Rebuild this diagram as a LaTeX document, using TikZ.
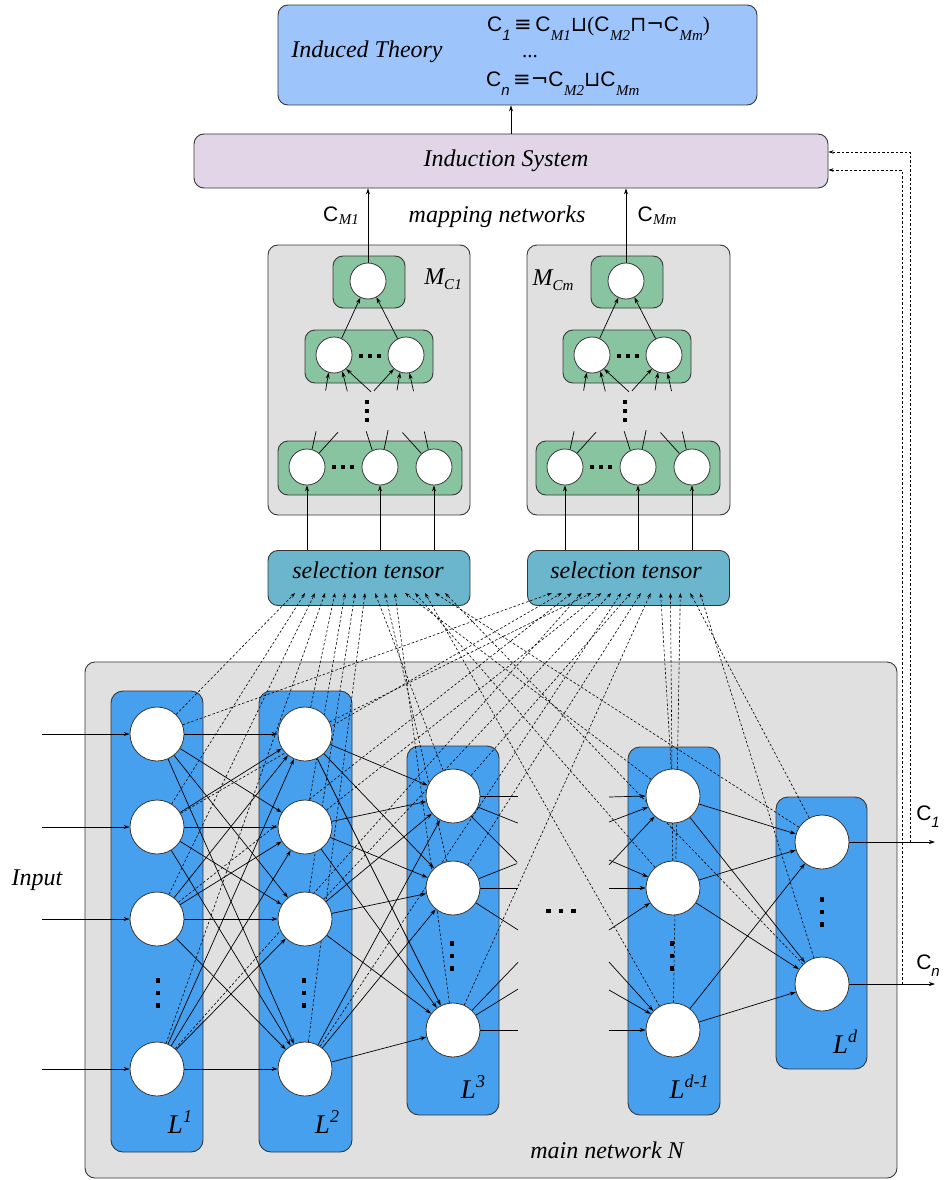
\documentclass[tikz,border=0pt]{standalone}
\usepackage{fontspec}
\setmainfont{Liberation Serif}
\newfontfamily\arialf{Liberation Sans}
\newfontfamily\symf{DejaVu Sans}
\usetikzlibrary{arrows.meta,calc}
\pgfdeclarelayer{back}
\pgfdeclarelayer{wires}
\pgfsetlayers{back,wires,main}

\definecolor{theoryfill}{RGB}{158,196,252}
\definecolor{inducefill}{RGB}{225,213,231}
\definecolor{panelfill}{RGB}{224,224,224}
\definecolor{groupfill}{RGB}{137,196,161}
\definecolor{tensorfill}{RGB}{107,182,204}
\definecolor{layerfill}{RGB}{70,160,238}
\definecolor{edge}{RGB}{55,55,55}

% concept names: sans C with a serif-italic or sans-italic index (optional drop)
\newcommand{\Cserif}[2][4pt]{{\arialf C}\kern0.5pt\raisebox{-#1}{\fontsize{15}{15}\selectfont\itshape #2}}
\newcommand{\Csans}[2][7pt]{{\arialf C}\raisebox{-#1}{\fontsize{15}{15}\selectfont\arialf\itshape #2}}
\newcommand{\Lsup}[1]{{\fontsize{27}{30}\selectfont L}\raisebox{11pt}{\fontsize{18}{18}\selectfont #1}}
\newcommand{\Msub}[1]{M\raisebox{-5pt}{\fontsize{15}{15}\selectfont #1}}

\begin{document}
\begin{tikzpicture}[x=1pt,y=-1pt,
  box/.style={rectangle, draw=edge, line width=0.9pt, rounded corners=10pt, inner sep=0pt},
  neuron/.style={circle, draw=edge, fill=white, line width=0.8pt, inner sep=0pt, minimum size=54pt},
  unit/.style={neuron, minimum size=36pt},
  wire/.style={-{Stealth[length=6pt,width=4pt]}, line width=0.7pt},
  stub/.style={line width=0.7pt},
  sel/.style={-{Stealth[length=5pt,width=3.5pt]}, line width=0.6pt, dash pattern=on 2.5pt off 2pt},
  lbl/.style={inner sep=0pt, font=\fontsize{24}{28}\selectfont\itshape},
  sym/.style={inner sep=0pt, font=\fontsize{21}{24}\selectfont},
  vdots/.pic={\foreach \j in {-1,0,1} \fill (-2.25,\j*12.5-2.25) rectangle ++(4.5,4.5);},
  hdots/.pic={\foreach \j in {-1,0,1} \fill (\j*12.5-2.25,-2.25) rectangle ++(4.5,4.5);}
]
\useasboundingbox (0,0) rectangle (946,1180);

% ---------- panels and groups ----------
\begin{pgfonlayer}{back}
  \node[box, fill=theoryfill, minimum width=479pt, minimum height=100pt] (theory) at (517.5,55) {};
  \node[box, fill=inducefill, minimum width=634pt, minimum height=54pt] (ind) at (511,161) {};
  \node[box, fill=panelfill, minimum width=202pt, minimum height=270pt] (map1) at (369,380) {};
  \node[box, fill=panelfill, minimum width=203pt, minimum height=270pt] (mapm) at (628.5,380) {};
  \foreach \k/\dx in {1/0,m/258}{
    \begin{scope}[shift={(\dx,0)}]
      \node[box, fill=groupfill, minimum width=72pt, minimum height=52pt] (g\k-top) at (369,282) {};
      \node[box, fill=groupfill, minimum width=128pt, minimum height=53pt] (g\k-mid) at (369,356.5) {};
      \node[box, fill=groupfill, minimum width=184pt, minimum height=54pt] (g\k-bot) at (370,468) {};
    \end{scope}
  }
  \node[box, fill=tensorfill, minimum width=202pt, minimum height=55pt] (st1) at (369,578) {};
  \node[box, fill=tensorfill, minimum width=202pt, minimum height=55pt] (stm) at (628.5,578) {};
  \node[box, fill=panelfill, minimum width=812pt, minimum height=516pt] (mainnet) at (491,920) {};
  \node[box, fill=layerfill, rounded corners=12pt, minimum width=92pt, minimum height=461pt] (lay1) at (157,921.5) {};
  \node[box, fill=layerfill, rounded corners=12pt, minimum width=93pt, minimum height=461pt] (lay2) at (305.5,921.5) {};
  \node[box, fill=layerfill, rounded corners=12pt, minimum width=92pt, minimum height=369pt] (lay3) at (453,930.5) {};
  \node[box, fill=layerfill, rounded corners=12pt, minimum width=92pt, minimum height=368pt] (layd1) at (674,931) {};
  \node[box, fill=layerfill, rounded corners=12pt, minimum width=91pt, minimum height=272pt] (layd) at (821.5,933) {};
\end{pgfonlayer}

% ---------- neurons ----------
\foreach \i/\y in {1/734,2/827,3/919,4/1069}{
  \node[neuron] (a\i) at (157,\y) {};
  \node[neuron] (b\i) at (305,\y) {};
  \coordinate (in\i) at (42,\y);
}
\foreach \i/\y in {1/796,2/888,3/1030}{
  \node[neuron] (c\i) at (453,\y) {};
  \node[neuron] (d\i) at (673,\y) {};
}
\node[neuron] (e1) at (822,842) {};
\node[neuron] (e2) at (822,984) {};
\coordinate (out1) at (935,842);
\coordinate (outn) at (935,984);
\coordinate (fb1) at (910,842);
\coordinate (fbn) at (902,984);

\foreach \k/\dx in {1/0,m/258}{
  \begin{scope}[shift={(\dx,0)}]
    \node[unit] (m\k-top) at (368,281) {};
    \node[unit] (m\k-a) at (334,355) {};
    \node[unit] (m\k-b) at (406,355) {};
    \node[unit] (m\k-p) at (307,467) {};
    \node[unit] (m\k-q) at (380,467) {};
    \node[unit] (m\k-r) at (434,467) {};
    \pic[scale=0.72] at (370,356) {hdots};
    \pic[scale=0.72] at (343,467) {hdots};
    \pic[scale=0.72] at (367,411) {vdots};
  \end{scope}
}

% ellipses inside the layers
\pic at (158,993) {vdots};
\pic at (304,993) {vdots};
\pic at (452,956) {vdots};
\pic at (672,956) {vdots};
\pic at (822,912) {vdots};
\pic at (561,911) {hdots};

% ---------- texts ----------
\node[lbl] (thname) at (367,52) {Induced Theory};
\node[sym, anchor=base west] (f1) at (487,32) {\Csans[9pt]{1}\,{\symf ≡}\,\Cserif[9pt]{M1}{\symf ⊔}(\Cserif[9pt]{M2}{\symf ⊓¬}\Cserif[9pt]{Mm})};
\node[sym, anchor=base] (f2) at (530,58) {...};
\node[sym, anchor=base west] (f3) at (486,87) {\Csans[9pt]{n}\,{\symf ≡¬}\Cserif[9pt]{M2}{\symf ⊔}\Cserif[9pt]{Mm}};
\node[lbl] (indname) at (506,161) {Induction System};
\node[lbl] (mapname) at (497,217) {mapping networks};
\node[sym] (cm1) at (341,216) {\Cserif[3pt]{M1}};
\node[sym] (cmm) at (657,216) {\Cserif[3pt]{Mm}};
\node[lbl] (mc1) at (443,279) {\Msub{C1}};
\node[lbl] (mcm) at (553,280) {\Msub{Cm}};
\node[lbl] (sel1) at (368,570) {selection tensor};
\node[lbl] (selm) at (626,570) {selection tensor};
\node[lbl] (inp) at (37,880) {Input};
\node[lbl] (l1) at (180,1122) {\Lsup{1}};
\node[lbl] (l2) at (327,1122) {\Lsup{2}};
\node[lbl] (l3) at (473,1087) {\Lsup{3}};
\node[lbl] (ld1) at (689,1087) {\Lsup{d-1}};
\node[lbl] (ld) at (845,1042) {\Lsup{d}};
\node[lbl] (mn) at (607,1150) {main network N};
\node[sym] (c1lbl) at (928,817) {\Csans{1}};
\node[sym] (cnlbl) at (928,966) {\Csans{n}};

% ---------- connections ----------
\begin{pgfonlayer}{wires}
  \draw[wire] (ind.north) -- (ind.north |- theory.south);
  \foreach \k in {1,m}{
    \draw[wire] (m\k-top) -- (ind.south -| m\k-top);
    \draw[wire] (m\k-a) -- (m\k-top);
    \draw[wire] (m\k-b) -- (m\k-top);
    \foreach \u in {p,q,r} \draw[wire] (st\k.north -| m\k-\u) -- (m\k-\u);
    % open links leaving the lower row
    \draw[stub] (m\k-p.74) -- ++(4,-18);
    \draw[stub] (m\k-p.49) -- ++(19,-21);
    \draw[stub] (m\k-q.115) -- ++(-6,-19);
    \draw[stub] (m\k-q.77) -- ++(4,-19);
    \draw[stub] (m\k-r.133) -- ++(-19,-21);
    \draw[stub] (m\k-r.108) -- ++(-4,-18);
    % open links entering the middle row
    \draw[wire] ($(m\k-a.253)+(-3,18)$) -- (m\k-a.253);
    \draw[wire] ($(m\k-a.297)+(5,20)$) -- (m\k-a.297);
    \draw[wire] ($(m\k-a.311)+(25,23)$) -- (m\k-a.311);
    \draw[wire] ($(m\k-b.229)+(-20,22)$) -- (m\k-b.229);
    \draw[wire] ($(m\k-b.251)+(-3,18)$) -- (m\k-b.251);
    \draw[wire] ($(m\k-b.281)+(4,18)$) -- (m\k-b.281);
  }

  % main network
  \foreach \i in {1,...,4}{
    \draw[wire] (in\i) -- (a\i);
    \foreach \j in {1,...,4} \draw[wire] (a\i) -- (b\j);
    \foreach \j in {1,2,3} \draw[wire] (b\i) -- (c\j);
  }
  \foreach \i in {1,2,3} \foreach \j in {1,2} \draw[wire] (d\i) -- (e\j);

  \draw[stub] (c1.east) -- ++(38,0);
  \draw[stub] (c1.-24) -- ++(40,16);
  \draw[stub] (c1.-48) -- ++(46,46);
  \draw[stub] (c2.20) -- ++(38,-15);
  \draw[stub] (c2.east) -- ++(38,0);
  \draw[stub] (c2.-33) -- ++(42,27);
  \draw[stub] (c3.46) -- ++(46,-48);
  \draw[stub] (c3.33) -- ++(42,-26);
  \draw[stub] (c3.east) -- ++(38,0);

  \foreach \y/\n/\a in {797/d1/180, 822/d1/204, 865/d1/228, 860/d2/156, 888/d2/180, 930/d2/213, 962/d3/136, 990/d3/144, 1030/d3/180}{
    \coordinate (lead\y) at (609,\y);
    \draw[wire] (lead\y) -- (\n.\a);
  }

  \draw[wire] (e1) -- (out1);
  \draw[wire] (e2) -- (outn);
  \draw[sel] (fb1) |- ($(ind.east)+(0,-9)$);
  \draw[sel] (fbn) |- ($(ind.east)+(0,9)$);

  % every neuron feeds both selection tensors
  \foreach \n [count=\i from 0] in {a1,a2,a3,a4,b1,b2,b3,b4,c1,c2,c3,d1,d2,d3,e1,e2}{
    \coordinate (sa\i) at ({295+10*\i},593);
    \coordinate (sb\i) at ({552+9.87*\i},593);
    \draw[sel] (\n) -- (sa\i);
    \draw[sel] (\n) -- (sb\i);
  }
\end{pgfonlayer}
\end{tikzpicture}
\end{document}
